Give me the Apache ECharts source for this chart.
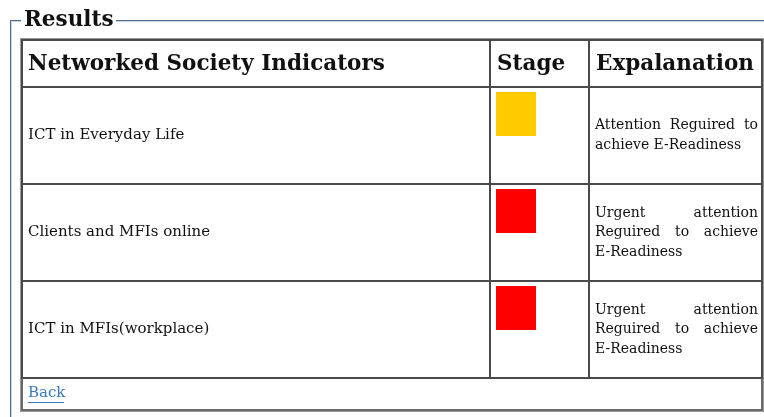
<!DOCTYPE html>
<html>
<head>
<meta charset="utf-8">
<script src="https://cdn.jsdelivr.net/npm/echarts@6/dist/echarts.min.js"></script>
<style>
  html, body { margin: 0; padding: 0; background: #ffffff; }
  #chart { width: 764px; height: 417px; }
</style>
</head>
<body>
<div id="chart"></div>
<script>
// table content
const legendTitle = "Results";
const headers = ["Networked Society Indicators", "Stage", "Expalanation"];
const indicators = ["ICT in Everyday Life", "Clients and MFIs online", "ICT in MFIs(workplace)"];
const stages = ["Attention", "Urgent", "Urgent"];
const explanations = [
  "Attention Reguired to achieve E-Readiness",
  "Urgent attention Reguired to achieve E-Readiness",
  "Urgent attention Reguired to achieve E-Readiness"
];
const backLabel = "Back";

// styles / layout
const stageColor = { Attention: "#ffcc00", Urgent: "#ff0000" };
const FONT = '"DejaVu Serif", serif';
const bodyFont = "15px " + FONT;
const noteFont = "14px " + FONT;
const headFont = "bold 21.5px " + FONT;
const tableLeft = 22, tableRight = 762, tableTop = 40, tableBottom = 410;
const headBottom = 87, bodyBottom = 378;
const col2 = 490, col3 = 589;
const cellStroke = { fill: "none", stroke: "#4a4a4a", lineWidth: 2 };

const ctx = document.createElement("canvas").getContext("2d");
ctx.font = noteFont;
const measure = s => ctx.measureText(s).width;

// greedy wrap, then justify every line but the last
function justified(text, x, w, cy, lineH) {
  const words = text.split(" ");
  const lines = [];
  let cur = [];
  words.forEach(wd => {
    const test = cur.concat(wd).join(" ");
    if (cur.length && measure(test) > w) {
      lines.push(cur);
      cur = [wd];
    } else {
      cur.push(wd);
    }
  });
  if (cur.length) lines.push(cur);
  const out = [];
  const y0 = cy - (lines.length - 1) * lineH / 2;
  lines.forEach((ln, li) => {
    const y = y0 + li * lineH;
    const last = li === lines.length - 1;
    if (last || ln.length === 1) {
      out.push({ type: "text", style: { text: ln.join(" "), x: x, y: y, font: noteFont, fill: "#111", textVerticalAlign: "middle" } });
      return;
    }
    const total = ln.reduce((s, wd) => s + measure(wd), 0);
    const gap = (w - total) / (ln.length - 1);
    let px = x;
    ln.forEach(wd => {
      out.push({ type: "text", style: { text: wd, x: px, y: y, font: noteFont, fill: "#111", textVerticalAlign: "middle" } });
      px += measure(wd) + gap;
    });
  });
  return out;
}

const chart = echarts.init(document.getElementById("chart"));

const option = {
  animation: false,
  backgroundColor: "#ffffff",
  grid: { left: tableLeft, right: 764 - tableRight, top: headBottom, bottom: 417 - bodyBottom },
  xAxis: { type: "value", min: 0, max: 1, show: false },
  yAxis: { type: "category", data: indicators, inverse: true, show: false },
  series: [
    {
      type: "custom",
      data: indicators.map((n, i) => [0, i]),
      renderItem: function (params, api) {
        const i = params.dataIndex;
        const band = api.size([0, 1])[1];
        const cy = api.coord([0, i])[1];
        const top = cy - band / 2;
        const x0 = params.coordSys.x;
        const x1 = x0 + params.coordSys.width;
        const children = [
          { type: "rect", shape: { x: x0, y: top, width: col2 - x0, height: band }, style: cellStroke },
          { type: "rect", shape: { x: col2, y: top, width: col3 - col2, height: band }, style: cellStroke },
          { type: "rect", shape: { x: col3, y: top, width: x1 - col3, height: band }, style: cellStroke },
          { type: "text", style: { text: indicators[i], x: x0 + 6, y: cy, font: bodyFont, fill: "#111", textVerticalAlign: "middle" } },
          { type: "rect", shape: { x: col2 + 6, y: top + 5, width: 40, height: 44 }, style: { fill: stageColor[stages[i]] } }
        ];
        return {
          type: "group",
          children: children.concat(justified(explanations[i], col3 + 6, x1 - col3 - 10, cy, 19.5))
        };
      }
    }
  ],
  graphic: [
    // fieldset frame
    { type: "line", shape: { x1: 10.5, y1: 20.5, x2: 10.5, y2: 417 }, style: { stroke: "#4f6d8f", lineWidth: 1 } },
    { type: "line", shape: { x1: 11.5, y1: 21.5, x2: 11.5, y2: 417 }, style: { stroke: "#c9d4df", lineWidth: 1 } },
    { type: "line", shape: { x1: 10, y1: 20.5, x2: 21, y2: 20.5 }, style: { stroke: "#4f6d8f", lineWidth: 1 } },
    { type: "line", shape: { x1: 116, y1: 20.5, x2: 764, y2: 20.5 }, style: { stroke: "#4f6d8f", lineWidth: 1 } },
    { type: "line", shape: { x1: 12, y1: 21.5, x2: 21, y2: 21.5 }, style: { stroke: "#c9d4df", lineWidth: 1 } },
    { type: "line", shape: { x1: 116, y1: 21.5, x2: 764, y2: 21.5 }, style: { stroke: "#c9d4df", lineWidth: 1 } },
    { type: "text", style: { text: legendTitle, x: 24, y: 20, font: headFont, fill: "#111", textVerticalAlign: "middle" } },
    // outer table border
    { type: "rect", shape: { x: tableLeft - 1, y: tableTop - 1, width: tableRight - tableLeft + 2, height: tableBottom - tableTop + 2 }, style: { fill: "none", stroke: "#9a9a9a", lineWidth: 2 } },
    // header row
    { type: "rect", shape: { x: tableLeft, y: tableTop, width: col2 - tableLeft, height: headBottom - tableTop }, style: cellStroke },
    { type: "rect", shape: { x: col2, y: tableTop, width: col3 - col2, height: headBottom - tableTop }, style: cellStroke },
    { type: "rect", shape: { x: col3, y: tableTop, width: tableRight - col3, height: headBottom - tableTop }, style: cellStroke },
    { type: "text", style: { text: headers[0], x: tableLeft + 6, y: 64, font: headFont, fill: "#111", textVerticalAlign: "middle" } },
    { type: "text", style: { text: headers[1], x: col2 + 7, y: 64, font: headFont, fill: "#111", textVerticalAlign: "middle" } },
    { type: "text", style: { text: headers[2], x: col3 + 7, y: 64, font: headFont, fill: "#111", textVerticalAlign: "middle" } },
    // footer row
    { type: "rect", shape: { x: tableLeft, y: bodyBottom, width: tableRight - tableLeft, height: tableBottom - bodyBottom }, style: { fill: "none", stroke: "#6a6a6a", lineWidth: 2 } },
    { type: "text", style: { text: backLabel, x: tableLeft + 6, y: 393, font: "15px " + FONT, fill: "#3b7bbd", textVerticalAlign: "middle" } },
    { type: "line", shape: { x1: tableLeft + 6, y1: 402.5, x2: tableLeft + 42, y2: 402.5 }, style: { stroke: "#3b7bbd", lineWidth: 1 } }
  ]
};

chart.setOption(option);
</script>
</body>
</html>
